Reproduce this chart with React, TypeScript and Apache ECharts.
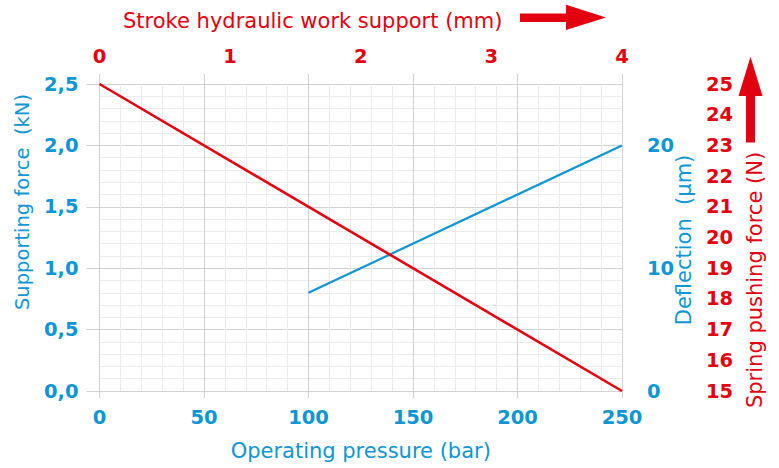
import React, { useEffect, useRef } from "react";
import * as echarts from "echarts";

const BLUE = "#0f96d4";
const RED = "#e3000f";
const FONT = "'DejaVu Sans', 'Open Sans', sans-serif";

// Blue series: operating pressure (bar) vs deflection (µm)
const bluePressure = [100, 250];
const blueDeflection = [8, 20];

// Red series: stroke (mm) vs spring pushing force (N)
const redStroke = [0, 4];
const redSpringForce = [25, 15];

const pressureTicks = { min: 0, max: 250, interval: 50 };
const supportTicks = { min: 0, max: 2.5, interval: 0.5 };
const deflectionTicks = { min: 0, max: 25, interval: 5 };
const strokeTicks = { min: 0, max: 4, interval: 1 };
const springTicks = { min: 15, max: 25, interval: 1 };

const axisTitles = {
  bottom: "Operating pressure (bar)",
  top: "Stroke hydraulic work support (mm)",
  left: "Supporting force  (kN)",
  right1: "Deflection  (µm)",
  right2: "Spring pushing force (N)",
};

export default function App() {
  const ref = useRef<HTMLDivElement>(null);
  useEffect(() => {
    if (!ref.current) return;
    const chart = echarts.init(ref.current, null, { renderer: "svg" });
    const labelBold = (color: string) => ({
      color,
      fontFamily: FONT,
      fontWeight: "bold" as const,
      fontSize: 19.5,
    });
    const gray = "#d3d3d3";
    const minorGray = "#ebebeb";
    const nameFont = `21px ${FONT}`;
    chart.setOption({
      animation: false,
      backgroundColor: "#ffffff",
      grid: { left: 99.5, right: 157, top: 84, bottom: 77 },
      xAxis: [
        {
          type: "value",
          position: "bottom",
          ...pressureTicks,
          axisLine: { show: false },
          axisTick: { show: true, length: 7, lineStyle: { color: gray } },
          axisLabel: { ...labelBold(BLUE), margin: 16 },
          splitLine: { show: true, lineStyle: { color: gray, width: 1 } },
          minorTick: { show: false, splitNumber: 5 },
          minorSplitLine: { show: true, lineStyle: { color: minorGray, width: 1 } },
          name: axisTitles.bottom,
          nameLocation: "middle",
          nameGap: 49,
          nameTextStyle: { color: BLUE, fontFamily: FONT, fontSize: 21 },
        },
        {
          type: "value",
          position: "top",
          ...strokeTicks,
          axisLine: { show: false },
          axisTick: { show: false },
          axisLabel: { ...labelBold(RED), margin: 18 },
          splitLine: { show: false },
        },
        {
          type: "value",
          position: "top",
          ...pressureTicks,
          axisLine: { show: false },
          axisTick: { show: true, length: 10, lineStyle: { color: gray } },
          axisLabel: { show: false },
          splitLine: { show: false },
        },
      ],
      yAxis: [
        {
          type: "value",
          position: "left",
          ...supportTicks,
          axisLine: { show: false },
          axisTick: { show: true, length: 13, lineStyle: { color: gray } },
          axisLabel: {
            ...labelBold(BLUE),
            margin: 21,
            formatter: (v: number) => v.toFixed(1).replace(".", ","),
          },
          splitLine: { show: true, lineStyle: { color: gray, width: 1 } },
          minorTick: { show: false, splitNumber: 5 },
          minorSplitLine: { show: true, lineStyle: { color: minorGray, width: 1 } },
        },
        {
          type: "value",
          position: "right",
          ...deflectionTicks,
          axisLine: { show: false },
          axisTick: { show: true, length: 14, lineStyle: { color: gray } },
          axisLabel: {
            ...labelBold(BLUE),
            margin: 25,
            formatter: (v: number) => (v % 10 === 0 ? String(v) : ""),
          },
          splitLine: { show: false },
        },
        {
          type: "value",
          position: "right",
          offset: 78,
          ...springTicks,
          axisLine: { show: false },
          axisTick: { show: false },
          axisLabel: { ...labelBold(RED), margin: 6 },
          splitLine: { show: false },
        },
      ],
      graphic: [
        {
          type: "text",
          x: 123,
          y: 21,
          style: {
            text: axisTitles.top,
            fill: RED,
            font: nameFont,
            align: "left",
            verticalAlign: "middle",
          },
        },
        {
          type: "text",
          x: 22,
          y: 202,
          rotation: Math.PI / 2,
          style: {
            text: axisTitles.left,
            fill: BLUE,
            font: `19.5px ${FONT}`,
            align: "center",
            verticalAlign: "middle",
          },
        },
        {
          type: "text",
          x: 684,
          y: 240,
          rotation: Math.PI / 2,
          style: {
            text: axisTitles.right1,
            fill: BLUE,
            font: nameFont,
            align: "center",
            verticalAlign: "middle",
          },
        },
        {
          type: "text",
          x: 755,
          y: 280,
          rotation: Math.PI / 2,
          style: {
            text: axisTitles.right2,
            fill: RED,
            font: nameFont,
            align: "center",
            verticalAlign: "middle",
          },
        },
        {
          type: "rect",
          shape: { x: 520, y: 13.5, width: 47, height: 8.5 },
          style: { fill: RED },
        },
        {
          type: "polygon",
          shape: { points: [[566, 4.7], [606, 17.5], [566, 30]] },
          style: { fill: RED },
        },
        {
          type: "rect",
          shape: { x: 746, y: 95, width: 9, height: 47.5 },
          style: { fill: RED },
        },
        {
          type: "polygon",
          shape: { points: [[750.5, 56.7], [762.5, 96], [738.5, 96]] },
          style: { fill: RED },
        },
      ],
      series: [
        {
          type: "line",
          name: "Deflection",
          xAxisIndex: 0,
          yAxisIndex: 1,
          data: bluePressure.map((p, i) => [p, blueDeflection[i]]),
          showSymbol: false,
          symbol: "none",
          lineStyle: { color: BLUE, width: 2.2 },
          z: 3,
        },
        {
          type: "line",
          name: "Spring pushing force",
          xAxisIndex: 1,
          yAxisIndex: 2,
          data: redStroke.map((s, i) => [s, redSpringForce[i]]),
          showSymbol: false,
          symbol: "none",
          lineStyle: { color: RED, width: 2.6 },
          z: 4,
        },
      ],
    });
    return () => chart.dispose();
  }, []);
  return (
    <div
      ref={ref}
      style={{ position: "absolute", left: 0, top: 0, width: 779, height: 468 }}
    />
  );
}
